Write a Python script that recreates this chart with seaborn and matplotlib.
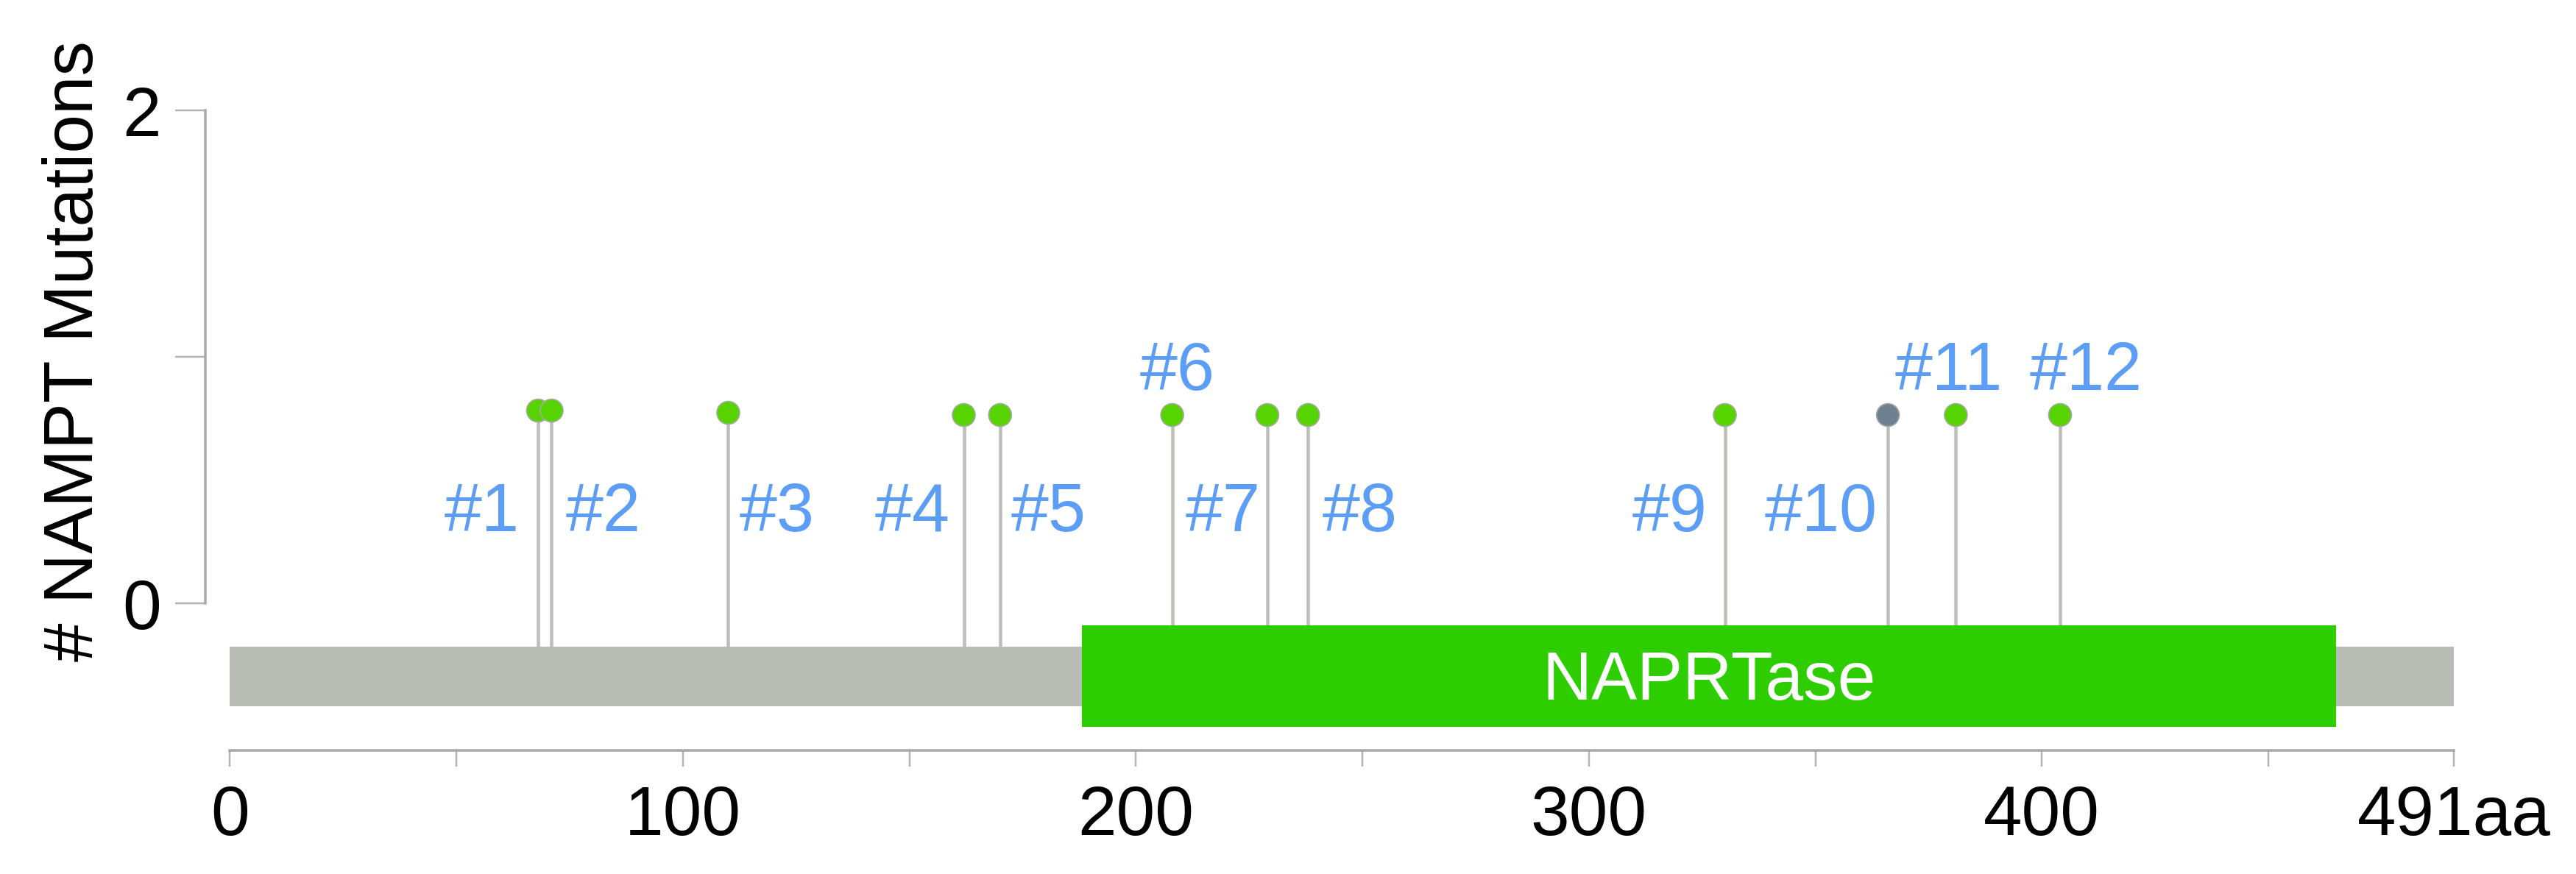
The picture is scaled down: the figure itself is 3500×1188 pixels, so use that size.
import matplotlib
matplotlib.use("Agg")
import matplotlib.pyplot as plt
import seaborn as sns
import pandas as pd

# ---- data -------------------------------------------------------------
protein_length = 491
domain_name = "NAPRTase"
domain_start = 188
domain_end = 465

mutation_labels = ["#1", "#2", "#3", "#4", "#5", "#6",
                   "#7", "#8", "#9", "#10", "#11", "#12"]
mutation_pos = [68, 71, 110, 162, 170, 208, 229, 238, 330, 366, 381, 404]
mutation_height = [0.782, 0.782, 0.773, 0.764, 0.764, 0.764,
                   0.764, 0.764, 0.764, 0.764, 0.764, 0.764]
mutation_type = ["Missense"] * 9 + ["Other"] + ["Missense"] * 2

y_ticks = [0, 1, 2]
y_ticklabels = ["0", "", "2"]
x_ticks = [0, 50, 100, 150, 200, 250, 300, 350, 400, 450, 491]
x_ticklabels = ["0", "", "100", "", "200", "", "300", "", "400", "", "491aa"]

# ---- label placement (horizontal offset in px, row) ------------------
label_dx_px = [-76, 70, 66, -70, 66, 7, -60, 70, -75, -91, -10, 35]
label_row = ["low"] * 5 + ["high"] + ["low"] * 4 + ["high", "high"]
row_baseline = {"low": 0.293, "high": 0.866}

# ---- style -----------------------------------------------------------
sns.set_theme(style="white")
plt.rcParams["font.family"] = ["Liberation Sans", "DejaVu Sans"]

DPI = 100
PX = 72.0 / DPI  # points per pixel
grey_bar = "#BABDB6"
domain_green = "#2ECD00"
stem_grey = "#BCBEB8"
label_blue = "#5C9DF5"
axis_grey = "#A9A9A9"
palette = {"Missense": "#57D400", "Other": "#6F8091"}

fig = plt.figure(figsize=(35, 11.88), dpi=DPI)
ax = fig.add_axes([0, 0, 1, 1])
ax.set_xlim(-50.77, 517.9)
ax.set_ylim(-1.0985, 2.448)

df = pd.DataFrame({
    "pos": mutation_pos,
    "count": mutation_height,
    "type": mutation_type,
    "label": mutation_labels,
})

# stems
ax.vlines(df["pos"], -0.2, df["count"], color=stem_grey,
          linewidth=4.5 * PX, zorder=1)

# protein backbone and domain
ax.barh(-0.297, protein_length, left=0, height=0.242,
        color=grey_bar, linewidth=0, zorder=2)
ax.barh(-0.2955, domain_end - domain_start, left=domain_start, height=0.412,
        color=domain_green, linewidth=0, zorder=3)
ax.text((domain_start + domain_end) / 2, -0.391, domain_name,
        ha="center", va="baseline", color="white", fontsize=67, zorder=4)

# lollipop heads
sns.scatterplot(data=df, x="pos", y="count", hue="type", palette=palette,
                s=(31 * PX) ** 2, edgecolor="#A7AAA3", linewidth=1.2,
                legend=False, zorder=5, ax=ax)

# mutation labels
for lab, x, dx, row in zip(mutation_labels, mutation_pos,
                           label_dx_px, label_row):
    ax.annotate(lab, xy=(x, row_baseline[row]), xytext=(dx * PX, 0),
                textcoords="offset points", ha="center", va="baseline",
                color=label_blue, fontsize=66, zorder=6)

# axes
for side in ("top", "right"):
    ax.spines[side].set_visible(False)
ax.spines["left"].set_position(("data", -5.4))
ax.spines["left"].set_bounds(0, 2)
ax.spines["bottom"].set_position(("data", -0.597))
ax.spines["bottom"].set_bounds(0, protein_length)
for side in ("left", "bottom"):
    ax.spines[side].set_color(axis_grey)
    ax.spines[side].set_linewidth(3.5 * PX)

ax.set_yticks(y_ticks)
ax.set_yticklabels(y_ticklabels)
ax.set_xticks(x_ticks)
ax.set_xticklabels(x_ticklabels)
ax.tick_params(axis="y", left=True, direction="out", length=41 * PX,
               width=2.5 * PX, color="#B4B4B4", pad=19 * PX, labelsize=68,
               labelcolor="black")
ax.tick_params(axis="x", bottom=True, direction="out", length=22 * PX,
               width=2.5 * PX, color="#B4B4B4", pad=24 * PX, labelsize=68,
               labelcolor="black")
ax.set_xlabel("")
ax.set_ylabel("")

fig.text(101.5 / 3500, 1 - 477.5 / 1188, "# NAMPT Mutations", rotation=90,
         ha="center", va="center", fontsize=68, color="black")

fig.savefig("out.png", dpi=DPI, facecolor="white")
